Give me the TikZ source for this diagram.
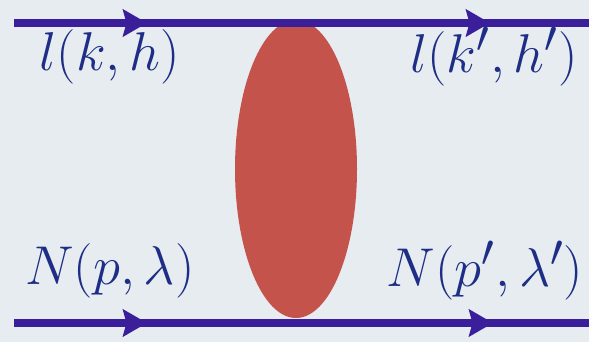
\documentclass[tikz,border=0pt]{standalone}
\usetikzlibrary{arrows.meta,shapes.geometric}
\definecolor{bgpaper}{HTML}{E7ECF0}
\definecolor{lineind}{HTML}{3A1E9A}
\definecolor{labnavy}{HTML}{1E2E86}
\definecolor{blobred}{HTML}{C4534B}
\tikzset{
  legb/.style={line width=4.5pt, draw=lineind},
  legarr/.style={legb, -{Stealth[length=4.8mm, width=5.4mm, inset=0.7mm]}},
  blob/.style={ellipse, fill=blobred, draw=none, minimum width=2.44cm, minimum height=5.96cm, inner sep=0pt},
  mlab/.style={text=labnavy, font=\Huge, scale=1.25, inner sep=0pt},
}
\begin{document}
\begin{tikzpicture}
    % paper
    \fill[bgpaper] (0,0) rectangle (11.78,6.84);
    \useasboundingbox (0,0) rectangle (11.78,6.84);
    % blob
    \node[blob] (amp) at (5.92,3.46) {};
    % lepton line
    \coordinate (lin) at (0.28,6.38);
    \coordinate (lmid) at (2.94,6.38);
    \coordinate (lmid2) at (9.80,6.38);
    \coordinate (lout) at (11.78,6.38);
    % nucleon line
    \coordinate (nin) at (0.28,0.38);
    \coordinate (nmid) at (2.94,0.38);
    \coordinate (nmid2) at (9.86,0.38);
    \coordinate (nout) at (11.78,0.38);
    \draw[legb] (lin) -- (lout);
    \draw[legarr] (lin) -- (lmid);
    \draw[legarr] (lmid) -- (lmid2);
    \draw[legb] (nin) -- (nout);
    \draw[legarr] (nin) -- (nmid);
    \draw[legarr] (nmid) -- (nmid2);
    % labels
    \node[mlab] (lk) at (2.2,5.70) {$l(k,h)$};
    \node[mlab] (lkp) at (9.88,5.70) {$l(k',h')$};
    \node[mlab] (np) at (2.2,1.42) {$N(p,\lambda)$};
    \node[mlab] (npp) at (9.70,1.42) {$N(p',\lambda')$};
\end{tikzpicture}
\end{document}
